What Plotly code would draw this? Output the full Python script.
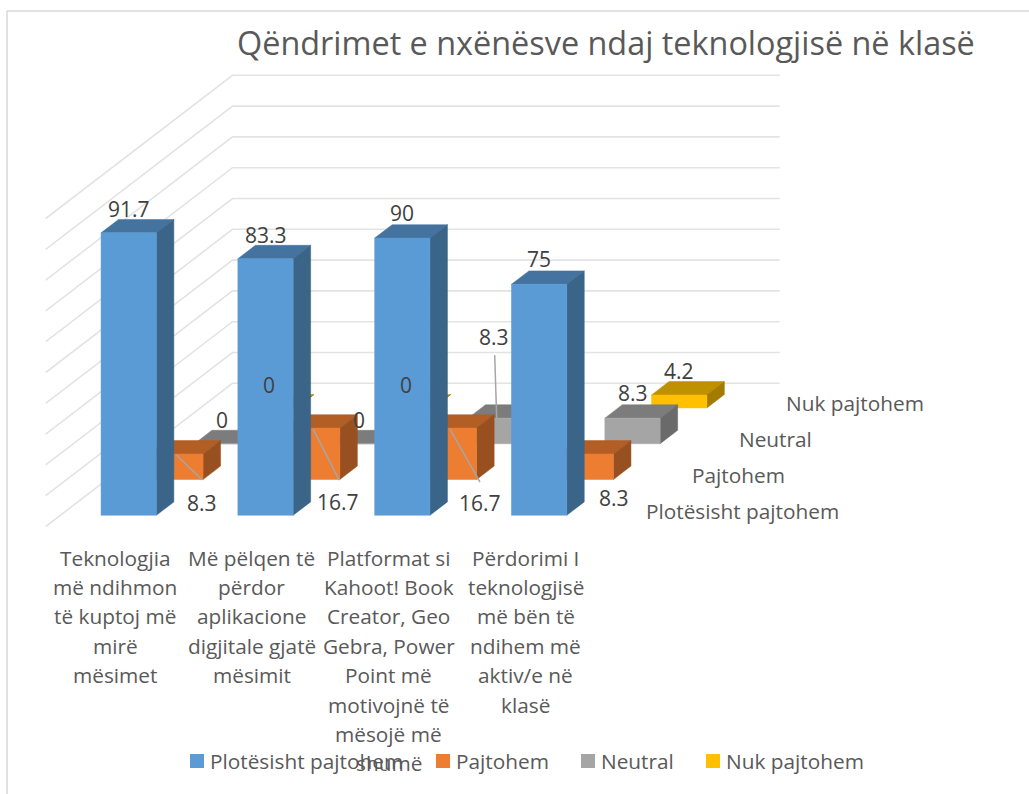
import plotly.graph_objects as go

# ---------- data ----------
TITLE = "Qëndrimet e nxënësve ndaj teknologjisë në klasë"
SERIES = ["Plotësisht pajtohem", "Pajtohem", "Neutral", "Nuk pajtohem"]
CATEGORY_LINES = [
    ["Teknologjia", "më ndihmon", "të kuptoj më", "mirë", "mësimet"],
    ["Më pëlqen të", "përdor", "aplikacione", "digjitale gjatë", "mësimit"],
    ["Platformat si", "Kahoot! Book", "Creator, Geo", "Gebra, Power", "Point më", "motivojnë të", "mësojë më", "shumë"],
    ["Përdorimi I", "teknologjisë", "më bën të", "ndihem më", "aktiv/e në", "klasë"],
]
PLOTESISHT = [91.7, 83.3, 90, 75]
PAJTOHEM = [8.3, 16.7, 16.7, 8.3]
NEUTRAL = [0, 0, 8.3, 8.3]
NUK_PAJTOHEM = [0, 0, None, 4.2]
GRID_VALUES = [0, 10, 20, 30, 40, 50, 60, 70, 80, 90, 100]

VALUES = [PLOTESISHT, PAJTOHEM, NEUTRAL, NUK_PAJTOHEM]

# ---------- styles ----------
FRONT = ["#5B9BD5", "#ED7D31", "#A5A5A5", "#FFC000"]
TOP = ["#44739F", "#B25E25", "#7C7C7C", "#BF9000"]
SIDE = ["#3A6488", "#985020", "#6A6A6A", "#A37B00"]
TEXT = "#595959"
LABEL = "#404040"
FONT = "Open Sans"

W, H = 1029, 794
# oblique projection of the 3D chart box: pixels per unit
PX_CAT, PX_VAL = 136.8, 3.08
PX_DX, PX_DY = 46.7, 35.8        # one series step in depth
X0, Y0 = 45.7, 526.5             # front-left floor corner in pixels
BAR_W, BAR_D = 55.3 / PX_CAT, 17.5 / PX_DX


def proj(c, v, d):
    """category position, value, depth -> plot coordinates"""
    return c + d * PX_DX / PX_CAT, v + d * PX_DY / PX_VAL


def px(x_px):
    return (x_px - X0) / PX_CAT


def py(y_px):
    return (Y0 - y_px) / PX_VAL


def polygon(points):
    xs, ys = zip(*[proj(*p) for p in points])
    return list(xs) + [xs[0], None], list(ys) + [ys[0], None]


fig = go.Figure()

# walls: gridlines on left wall and back wall
gx, gy = [], []
for v in GRID_VALUES:
    for p in (proj(0, v, 0), proj(0, v, 4), proj(4, v, 4)):
        gx.append(p[0])
        gy.append(p[1])
    gx.append(None)
    gy.append(None)
fig.add_trace(go.Scatter(x=gx, y=gy, mode="lines", showlegend=False, hoverinfo="skip",
                         line=dict(color="#E3E3E3", width=1.6)))

# bars, back series first
for s in range(len(SERIES) - 1, -1, -1):
    faces = {"top": ([], []), "side": ([], []), "front": ([], [])}
    for c, v in enumerate(VALUES[s]):
        if v is None:
            continue
        l = c + (1 - BAR_W) / 2
        r = l + BAR_W
        d0 = s + (1 - BAR_D) / 2
        d1 = d0 + BAR_D
        quads = {
            "top": [(l, v, d0), (r, v, d0), (r, v, d1), (l, v, d1)],
            "side": [(r, 0, d0), (r, 0, d1), (r, v, d1), (r, v, d0)],
            "front": [(l, 0, d0), (r, 0, d0), (r, v, d0), (l, v, d0)],
        }
        for k, q in quads.items():
            a, b = polygon(q)
            faces[k][0].extend(a)
            faces[k][1].extend(b)
    for k, col in (("top", TOP[s]), ("side", SIDE[s]), ("front", FRONT[s])):
        fig.add_trace(go.Scatter(x=faces[k][0], y=faces[k][1], mode="lines", fill="toself",
                                 fillcolor=col, line=dict(color=col, width=0.5),
                                 name=SERIES[s] + " " + k, showlegend=False, hoverinfo="skip"))

# data labels: pixel offset from the centre of the bar's front top edge
OFFSETS = {
    (0, 0): (0, -24), (0, 1): (0, -24), (0, 2): (0, -25), (0, 3): (0, -25),
    (1, 0): (27, 49), (1, 1): (26, 74), (1, 2): (31, 75), (1, 3): (28, 44),
    (2, 0): (0, -24), (2, 1): (0, -24), (2, 2): (-2, -81), (2, 3): (0, -25),
    (3, 0): (0, -23), (3, 1): (0, -23), (3, 3): (0, -24),
}
# leader line: (start offset from the same anchor, end offset)
LEADERS = {
    (1, 0): ((1, 1), (27, 26)),
    (1, 1): ((1, 1), (27, 52)),
    (1, 2): ((1, 1), (31, 54)),
    (2, 2): ((-1, -63), (1, 0)),
}
annotations = []
for s in range(len(SERIES)):
    for c, v in enumerate(VALUES[s]):
        if v is None:
            continue
        ax, ay = proj(c + 0.5, v, s + (1 - BAR_D) / 2)
        dx, dy = OFFSETS[(s, c)]
        annotations.append(dict(x=ax, y=ay, xref="x", yref="y", xshift=dx, yshift=-dy,
                                text=f"{v:g}", showarrow=False,
                                font=dict(family=FONT, size=21, color=LABEL)))
        if (s, c) in LEADERS:
            (x1, y1), (x2, y2) = LEADERS[(s, c)]
            fig.add_trace(go.Scatter(
                x=[ax + x1 / PX_CAT, ax + x2 / PX_CAT],
                y=[ay - y1 / PX_VAL, ay - y2 / PX_VAL],
                mode="lines", line=dict(color="#A6A6A6", width=1.5),
                showlegend=False, hoverinfo="skip"))

# category labels, one text per wrapped line
for c, lines in enumerate(CATEGORY_LINES):
    for i, line in enumerate(lines):
        annotations.append(dict(x=c + 0.5, y=py(557.5 + i * 29.4), xref="x", yref="y", text=line,
                                xshift=1, showarrow=False,
                                font=dict(family=FONT, size=20.8, color=TEXT)))

# series labels along the depth axis
for s, name in enumerate(SERIES):
    ax, ay = proj(4, 0, s + 0.5)
    annotations.append(dict(x=ax, y=ay, xref="x", yref="y", text=name, xanchor="left",
                            xshift=27.5, yshift=-2, showarrow=False,
                            font=dict(family=FONT, size=20.8, color=TEXT)))

annotations.append(dict(x=976.5 / W, y=1 - 42 / H, xref="paper", yref="paper", text=TITLE,
                        xanchor="right", yanchor="middle", showarrow=False,
                        font=dict(family=FONT, size=32.4, color=TEXT)))

# legend row: colour key and its text
LEGEND_KEY_X = [197, 443, 588, 713]
LEGEND_TEXT_X = [210, 456, 601, 726]
LEGEND_Y = 761
for s, name in enumerate(SERIES):
    fig.add_trace(go.Scatter(x=[px(LEGEND_KEY_X[s])], y=[py(LEGEND_Y)], mode="markers", name=name,
                             marker=dict(symbol="square", size=14, color=FRONT[s]),
                             showlegend=False, hoverinfo="skip"))
    annotations.append(dict(x=px(LEGEND_TEXT_X[s]), y=py(LEGEND_Y), xref="x", yref="y", text=name,
                            xanchor="left", showarrow=False, xshift=-2,
                            font=dict(family=FONT, size=20.8, color=TEXT)))

fig.update_layout(
    width=W, height=H, margin=dict(l=0, r=0, t=0, b=0),
    paper_bgcolor="white", plot_bgcolor="white", showlegend=False,
    xaxis=dict(range=[px(0), px(W)], visible=False, fixedrange=True),
    yaxis=dict(range=[py(H), py(0)], visible=False, fixedrange=True),
    annotations=annotations, hovermode=False,
    shapes=[dict(type="line", xref="paper", yref="paper", x0=7 / W, x1=7 / W, y0=0, y1=1 - 11 / H,
                 line=dict(color="#D9D9D9", width=1.5)),
            dict(type="line", xref="paper", yref="paper", x0=7 / W, x1=1, y0=1 - 11 / H, y1=1 - 11 / H,
                 line=dict(color="#D9D9D9", width=1.5))],
)

fig.write_html("out.html", config=dict(displayModeBar=False),
               post_script="document.body.style.margin='0';document.documentElement.style.overflow='hidden';")
